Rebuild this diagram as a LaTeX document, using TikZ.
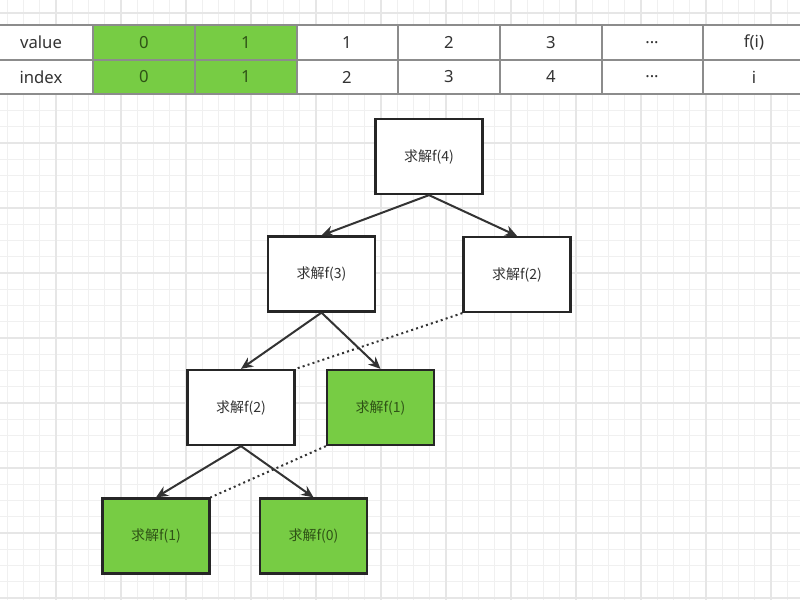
\documentclass[tikz,border=0pt]{standalone}
\usepackage{fontspec}
\setmainfont{Noto Sans CJK SC}
\newfontfamily\tablefont{Noto Sans}
\usetikzlibrary{arrows.meta}
\definecolor{cellgreen}{HTML}{77CC44}
\definecolor{textgreen}{HTML}{2F5316}
\definecolor{inkgray}{HTML}{333333}
\definecolor{gridminor}{HTML}{F0F0F0}
\definecolor{gridmajor}{HTML}{E6E6E6}
\definecolor{tableline}{HTML}{8C8C8C}
\tikzset{
  solve/.style={draw=black!85, line width=1.7pt, fill=white, text=inkgray,
    minimum width=80.25pt, minimum height=56.25pt, inner sep=0pt, font=\fontsize{10.5}{12}\selectfont},
  known/.style={solve, fill=cellgreen, text=textgreen},
  edge/.style={draw=inkgray, line width=1.5pt, -{Stealth[length=9pt,width=8pt]}},
  memo/.style={draw=inkgray, line width=1.5pt, dash pattern=on 1.5pt off 2.4pt},
  cell/.style={text=inkgray, inner sep=0pt, font=\tablefont\fontsize{12.5}{14}\selectfont},
}
\begin{document}
\begin{tikzpicture}[x=0.75pt, y=-0.75pt]
	\useasboundingbox (0,0) rectangle (800,600);
	\fill[white] (0,0) rectangle (800,600);
	% grid
	\foreach \g in {7.25,23.5,...,800} \draw[gridminor, line width=0.7pt] (\g,0) -- (\g,600);
	\foreach \g in {13,29.25,...,600} \draw[gridminor, line width=0.7pt] (0,\g) -- (800,\g);
	\foreach \g in {56,121,...,800} \draw[gridmajor, line width=0.8pt] (\g,0) -- (\g,600);
	\foreach \g in {13,78,...,600} \draw[gridmajor, line width=0.8pt] (0,\g) -- (800,\g);
	% table
	\fill[white] (0,25) rectangle (800,94);
	\fill[cellgreen] (93,25) rectangle (297,94);
	\draw[tableline, line width=1.2pt] (0,25) -- (800,25) (0,60) -- (800,60) (0,94) -- (800,94);
	\foreach \c in {93,195,297,398,500,602,703} \draw[tableline, line width=1.2pt] (\c,25) -- (\c,94);
	\node[cell] (vhead) at (41,42.5) {value};
	\node[cell] (ihead) at (41,77) {index};
	\node[cell, text=textgreen] (v0) at (144,42.5) {0};
	\node[cell, text=textgreen] (i0) at (144,77) {0};
	\node[cell, text=textgreen] (v1) at (246,42.5) {1};
	\node[cell, text=textgreen] (i1) at (246,77) {1};
	\node[cell] (v2) at (347,42.5) {1};
	\node[cell] (i2) at (347,77) {2};
	\node[cell] (v3) at (449,42.5) {2};
	\node[cell] (i3) at (449,77) {3};
	\node[cell] (v4) at (551,42.5) {3};
	\node[cell] (i4) at (551,77) {4};
	\node[cell] (vdots) at (652,42.5) {...};
	\node[cell] (idots) at (652,77) {...};
	\node[cell] (vi) at (754,42.5) {f(i)};
	\node[cell] (ii) at (754,77) {i};
	% recursion tree
	\node[solve] (f4) at (429,156.5) {求解f(4)};
	\node[solve] (f3) at (321.5,274) {求解f(3)};
	\node[solve] (f2r) at (517,274.5) {求解f(2)};
	\node[solve] (f2l) at (241,407.5) {求解f(2)};
	\node[known] (f1m) at (380.5,407.5) {求解f(1)};
	\node[known] (f1b) at (156,536) {求解f(1)};
	\node[known] (f0) at (313.5,536) {求解f(0)};
	\draw[edge] (f4.south) -- (f3.north);
	\draw[edge] (f4.south) -- (f2r.north);
	\draw[edge] (f3.south) -- (f2l.north);
	\draw[edge] (f3.south) -- (f1m.north);
	\draw[edge] (f2l.south) -- (f1b.north);
	\draw[edge] (f2l.south) -- (f0.north);
	\draw[memo] (f2r.south west) -- (f2l.north east);
	\draw[memo] (f1m.south west) -- (f1b.north east);
\end{tikzpicture}
\end{document}
